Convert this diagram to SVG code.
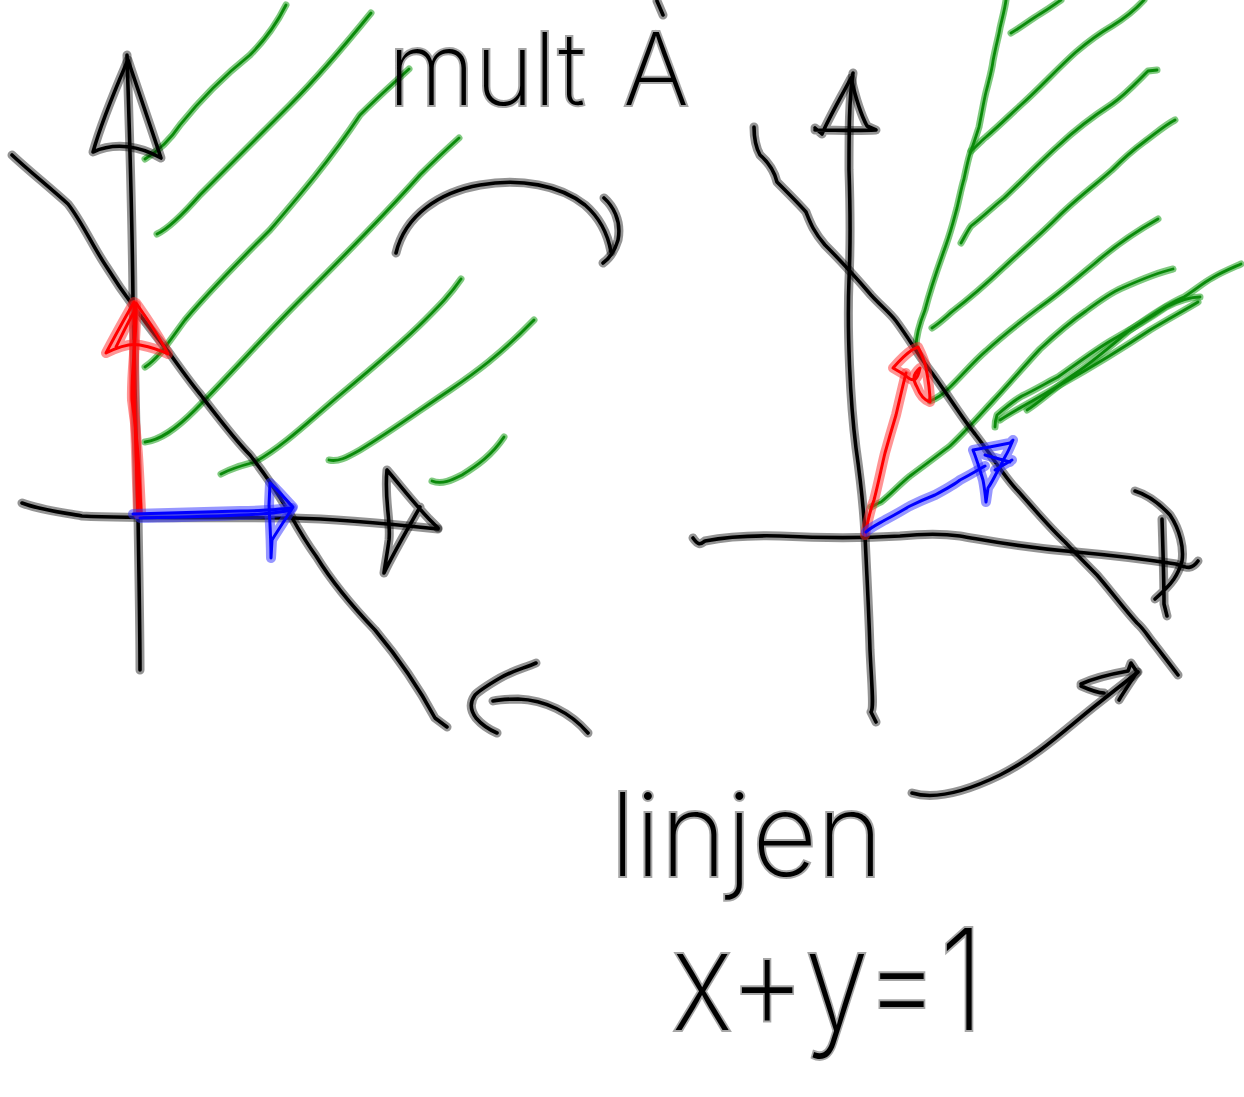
<svg xmlns="http://www.w3.org/2000/svg" xmlns:xlink="http://www.w3.org/1999/xlink" width="1244" height="1097" viewBox="0 0 1244 1097">
<style>
  path { fill: none; stroke-linecap: round; stroke-linejoin: round; }
  .kH { stroke: #000; stroke-opacity: 0.42; stroke-width: 9; }
  .kI { stroke: #000; stroke-width: 3.6; }
  .gH { stroke: #2aa52a; stroke-opacity: 0.6; stroke-width: 7; }
  .gI { stroke: #0a8a0a; stroke-width: 2.8; }
  .rH { stroke: #ff2a2a; stroke-opacity: 0.5; stroke-width: 10; }
  .rI { stroke: #ff0000; stroke-width: 3; }
  .bH { stroke: #3030ff; stroke-opacity: 0.5; stroke-width: 10; }
  .bI { stroke: #0000ff; stroke-width: 3; }
  .hw { font-family: Inter, "Open Sans", "Liberation Sans", sans-serif; font-weight: 200; fill: #000; stroke: #000; stroke-opacity: 0.35; stroke-width: 4; paint-order: stroke; }
</style>
<defs>
  <g id="black">
    <!-- left panel axes -->
    <path d="M127,55 C129,120 132,200 133,300 C135,380 136,450 138,515 C139,580 140,630 140,670"/>
    <path d="M127,62 C115,90 102,120 93,152 C115,142 140,146 161,158 C150,125 138,90 128,60"/>
    <path d="M22,503 C40,510 60,512 82,516 C140,519 220,517 293,518 C340,519 390,524 438,529"/>
    <path d="M387,470 C384,500 391,520 389,540 C387,555 385,565 384,573 C395,550 410,525 420,507 M387,470 C400,485 411,500 429,519 L438,528"/>
    <path d="M12,155 C28,170 48,186 68,204 C82,222 92,245 106,266 C116,282 125,295 134,307 C150,328 160,342 168,351 C180,368 190,382 200,394 C220,420 235,440 250,455 C268,478 281,498 291,516 C300,532 308,545 316,556 C332,582 352,606 375,630 C400,660 420,690 435,718 L447,727"/>
    <!-- right panel axes -->
    <path d="M853,73 C849,100 849,132 849,170 C850,200 851,236 849,280 C847,330 850,400 856,448 C862,490 864,515 865,535 C867,580 869,613 870,650 C872,690 874,708 871,712 L876,722"/>
    <path d="M815,128 C822,134 822,134 822,134 C828,120 835,108 851,78 C855,95 860,113 867,126 L876,130 C855,131 835,130 815,130"/>
    <path d="M693,538 C698,545 700,545 705,541 C720,538 741,535 780,536 C820,538 867,538 900,536 C920,534 939,533 960,536 C990,541 1018,547 1076,552 C1120,556 1150,560 1176,564 C1185,567 1191,571 1198,561"/>
    <path d="M1135,491 C1145,494 1158,502 1170,515 C1180,530 1184,548 1182,561 C1178,575 1173,583 1155,599 M1162,519 C1163,550 1164,580 1164,604 L1167,616"/>
    <path d="M754,127 C754,135 755,146 760,155 C768,162 774,170 777,182 C790,195 800,205 806,212 C810,222 813,231 825,245 C840,260 853,274 871,295 C880,305 890,313 896,321 C910,340 920,358 932,373 C950,398 962,418 975,434 C995,460 1005,478 1018,491 C1035,510 1050,528 1065,542 C1080,558 1090,568 1097,575 C1110,590 1125,610 1137,623 C1145,630 1148,637 1155,645 C1165,658 1172,667 1178,675"/>
    <!-- arrows between panels -->
    <path d="M396,253 C405,215 440,192 480,185 C520,178 560,185 585,205 C600,218 608,235 611,252"/>
    <path d="M604,198 C612,205 622,220 618,240 C615,250 610,258 603,263"/>
    <path d="M588,733 C570,712 545,700 518,699 C505,699 497,700 493,701"/>
    <path d="M536,663 C525,668 514,670 500,678 C488,685 480,690 475,695 C470,702 470,710 476,718 C482,725 490,730 497,733"/>
    <path d="M912,793 C935,800 965,792 1000,775 C1040,755 1070,725 1100,702 C1115,690 1128,680 1138,672"/>
    <path d="M1081,684 C1090,680 1100,676 1128,671 L1131,663 L1137,672 C1132,680 1125,690 1119,700 M1081,686 C1090,690 1100,693 1104,693"/>
    <!-- accent tick above A -->
    <path d="M657,1 L663,15"/>
  </g>
  <g id="green">
    <!-- left panel -->
    <path d="M145,159 C160,150 170,140 180,125 C200,100 225,75 250,55 C265,40 276,25 286,5"/>
    <path d="M157,234 C170,228 185,212 200,195 C230,165 260,135 290,105 C320,75 345,45 371,13"/>
    <path d="M145,367 C160,357 170,340 185,320 C210,290 240,260 270,230 C300,195 330,160 360,115 C380,95 395,82 409,69"/>
    <path d="M145,442 C160,440 175,430 195,410 C230,375 265,335 300,300 C340,260 380,220 420,175 C435,160 448,148 459,138"/>
    <path d="M221,474 C232,468 240,466 255,462 C285,445 310,420 340,395 C370,370 400,345 425,320 C440,305 450,295 461,279"/>
    <path d="M329,460 C338,462 346,458 360,450 C390,432 420,410 450,390 C475,373 500,355 534,320"/>
    <path d="M432,481 C442,485 452,480 462,475 C478,465 492,455 504,437"/>
    <!-- right panel -->
    <path d="M916,347 C916,340 917,330 925,310 C932,283 940,262 946,245 C952,228 955,215 957,208 C960,195 962,185 964,179 C967,165 969,155 971,151 C975,140 978,130 979,127 C982,112 984,100 986,92 C989,80 992,70 993,61 C996,45 999,35 1000,28 C1003,15 1005,8 1006,0"/>
    <path d="M1011,33 C1020,28 1030,20 1040,14 C1050,8 1055,4 1061,0"/>
    <path d="M971,151 C978,145 982,140 986,137 C1000,125 1012,113 1022,104 C1040,88 1058,68 1076,52 C1090,40 1100,33 1112,26 C1125,18 1135,10 1144,0"/>
    <path d="M961,243 C965,236 968,230 971,226 C985,215 995,205 1004,198 C1020,183 1040,162 1058,146 C1075,130 1095,115 1112,104 C1125,95 1135,84 1148,71 L1157,70"/>
    <path d="M932,328 C940,323 947,316 953,311 C970,298 985,285 1004,267 C1020,252 1040,235 1058,217 C1075,200 1095,185 1112,170 C1122,160 1133,150 1144,142 C1155,134 1165,125 1175,120"/>
    <path d="M930,401 C938,398 944,393 948,389 C960,378 973,362 986,351 C1000,338 1020,322 1040,307 C1060,293 1078,277 1094,264 C1110,250 1135,232 1158,219"/>
    <path d="M871,507 C875,505 878,503 881,502 C890,495 900,484 910,476 C925,465 938,455 950,446 C965,432 980,415 993,401 C1008,385 1025,365 1040,349 C1055,335 1070,322 1086,311 C1098,302 1110,293 1122,288 C1140,280 1160,272 1173,269"/>
    <path d="M995,427 C995,421 996,418 997,415 C1005,408 1015,400 1022,396 C1035,390 1048,382 1058,377 C1075,365 1095,350 1112,340 C1130,330 1150,318 1166,307 C1180,300 1190,297 1200,297"/>
    <path d="M1000,420 C1015,410 1040,397 1060,385 C1090,368 1120,350 1150,330 C1170,318 1185,310 1198,302"/>
    <path d="M1027,410 C1040,402 1058,385 1076,373 C1095,360 1112,345 1130,330 C1148,318 1165,305 1184,297 C1195,290 1203,283 1212,278 C1222,272 1232,268 1241,264"/>
  </g>
  <g id="red">
    <path d="M138,514 C137,480 136,450 135,420 C133,390 135,360 134,305"/>
    <path d="M141,512 C139,470 138,440 132,400 C131,370 137,340 136,305"/>
    <path d="M134,302 C125,318 118,330 106,353 C120,346 130,343 140,345 C150,347 160,350 168,354 C160,338 148,320 136,303 M116,347 C122,335 128,322 134,312"/>
    <path d="M865,535 C868,520 870,510 874,500 C878,485 882,465 885,453 C890,435 893,425 896,415 C900,398 903,385 906,373"/>
    <path d="M905,375 L893,368 C900,360 906,354 912,350 L918,347 C922,355 925,362 926,368 C928,378 930,390 930,402 C924,400 920,395 917,387 C913,380 912,375 920,368 C918,378 915,385 905,375"/>
  </g>
  <g id="blue">
    <path d="M133,514 C160,513 200,512 240,511 C260,511 275,510 292,508"/>
    <path d="M140,518 C180,517 230,516 260,514 C275,513 283,512 290,510"/>
    <path d="M270,483 C278,490 286,500 293,507 C285,520 278,530 272,540 L271,558 C271,540 270,525 269,505 L270,483"/>
    <path d="M866,532 C870,528 878,524 885,520 C895,515 903,510 910,506 C922,500 930,497 935,495 C948,488 955,484 960,480 C970,475 978,470 985,466"/>
    <path d="M973,450 C985,448 995,446 1010,443 L1013,440 C1010,447 1008,452 1006,455 C1002,462 1000,468 997,472 C993,480 990,485 988,488 L986,502 C985,492 984,485 983,480 C980,470 977,460 973,450 M985,455 L1010,462 M995,470 L1012,460"/>
  </g>
</defs>
<rect x="0" y="0" width="1244" height="1097" fill="#ffffff"/>
<g id="hatching">
  <use xlink:href="#green" class="gH"/>
  <use xlink:href="#green" class="gI"/>
</g>
<g id="connectors">
  <use xlink:href="#black" class="kH"/>
  <use xlink:href="#black" class="kI"/>
</g>
<g id="vector-e2">
  <use xlink:href="#red" class="rH"/>
  <use xlink:href="#red" class="rI"/>
</g>
<g id="vector-e1">
  <use xlink:href="#blue" class="bH"/>
  <use xlink:href="#blue" class="bI"/>
</g>
<g id="label-mult">
  <text class="hw" x="388" y="105" font-size="100">mult <tspan dx="10">A</tspan></text>
</g>
<g id="label-linjen">
  <text class="hw" x="610" y="876" font-size="115" textLength="273" lengthAdjust="spacingAndGlyphs">linjen</text>
  <text class="hw" x="672" y="1030" font-size="140" textLength="312" lengthAdjust="spacingAndGlyphs">x+y=1</text>
</g>
</svg>
